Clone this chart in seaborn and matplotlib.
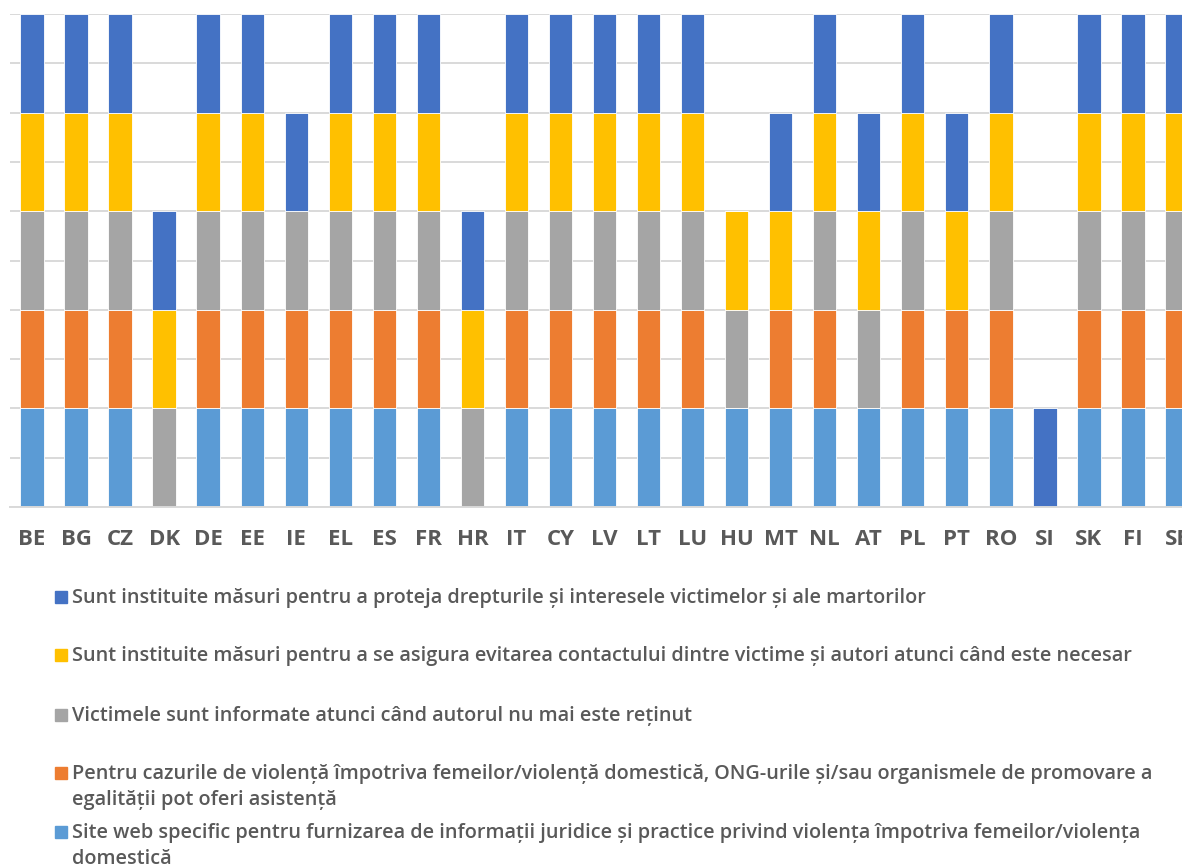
import pandas as pd
import matplotlib.pyplot as plt
import seaborn as sns
from matplotlib.patches import Rectangle

# --- date ---
countries = ["BE", "BG", "CZ", "DK", "DE", "EE", "IE", "EL", "ES", "FR", "HR", "IT", "CY", "LV",
             "LT", "LU", "HU", "MT", "NL", "AT", "PL", "PT", "RO", "SI", "SK", "FI", "SE"]

site_web = [1, 1, 1, 0, 1, 1, 1, 1, 1, 1, 0, 1, 1, 1, 1, 1, 1, 1, 1, 1, 1, 1, 1, 0, 1, 1, 1]
ong =      [1, 1, 1, 0, 1, 1, 1, 1, 1, 1, 0, 1, 1, 1, 1, 1, 0, 1, 1, 0, 1, 1, 1, 0, 1, 1, 1]
informate = [1, 1, 1, 1, 1, 1, 1, 1, 1, 1, 1, 1, 1, 1, 1, 1, 1, 0, 1, 1, 1, 0, 1, 0, 1, 1, 1]
evitare =  [1, 1, 1, 1, 1, 1, 0, 1, 1, 1, 1, 1, 1, 1, 1, 1, 1, 1, 1, 1, 1, 1, 1, 0, 1, 1, 1]
protectie = [1, 1, 1, 1, 1, 1, 1, 1, 1, 1, 1, 1, 1, 1, 1, 1, 0, 1, 1, 1, 1, 1, 1, 1, 1, 1, 1]

labels = [
    "Site web specific pentru furnizarea de informații juridice și practice privind violența împotriva femeilor/violența\ndomestică",
    "Pentru cazurile de violență împotriva femeilor/violență domestică, ONG-urile și/sau organismele de promovare a\negalității pot oferi asistență",
    "Victimele sunt informate atunci când autorul nu mai este reținut",
    "Sunt instituite măsuri pentru a se asigura evitarea contactului dintre victime și autori atunci când este necesar",
    "Sunt instituite măsuri pentru a proteja drepturile și interesele victimelor și ale martorilor",
]
colors = ["#5B9BD5", "#ED7D31", "#A5A5A5", "#FFC000", "#4472C4"]

series = [site_web, ong, informate, evitare, protectie]

sns.set_theme(style="white")
plt.rcParams["font.family"] = ["Open Sans", "DejaVu Sans"]
text_color = "#595959"
grid_color = "#D9D9D9"

fig = plt.figure(figsize=(11.82, 8.68), dpi=100)
ax = fig.add_axes([10 / 1182, (868 - 507) / 868, 1189 / 1182, 493 / 868])

bottom = pd.Series([0] * len(countries))
for vals, col in zip(series, colors):
    df = pd.DataFrame({"tara": countries, "val": vals})
    sns.barplot(data=df, x="tara", y="val", order=countries, color=col,
                bottom=bottom.values, width=0.53, edgecolor="white", linewidth=0.6,
                saturation=1, ax=ax)
    bottom = bottom + pd.Series(vals)

ax.set_ylim(0, 5)
ax.set_xlim(-0.5, len(countries) - 0.5)
ax.set_yticks([i * 0.5 for i in range(11)])
ax.set_yticklabels([])
ax.tick_params(axis="y", length=0)
ax.yaxis.grid(True, color=grid_color, linewidth=1.4)
ax.set_axisbelow(True)
ax.set_xlabel("")
ax.set_ylabel("")

for s in ["top", "right", "left"]:
    ax.spines[s].set_visible(False)
ax.spines["bottom"].set_color(grid_color)
ax.spines["bottom"].set_linewidth(1.4)

ax.set_xticks([i - 0.5 for i in range(len(countries) + 1)], minor=True)
ax.tick_params(axis="x", which="minor", length=8, width=1.4, color=grid_color)
ax.tick_params(axis="x", which="major", length=0, pad=16, labelsize=16, labelcolor=text_color)
for t in ax.get_xticklabels():
    t.set_fontweight("bold")

# --- legenda (de sus in jos, ordine inversa) ---
rows_y = [597, 655, 715, 773, 832]
for lab, col, y in zip(labels[::-1], colors[::-1], rows_y):
    fig.patches.append(Rectangle((55 / 1182, 1 - (y + 6) / 868), 12 / 1182, 12 / 868,
                                 transform=fig.transFigure, color=col))
    fig.text(72 / 1182, 1 - (y - 9) / 868, lab, fontsize=14.3, color=text_color,
             fontweight="semibold", va="top", ha="left", linespacing=1.42)

fig.savefig("out.png", dpi=100)
